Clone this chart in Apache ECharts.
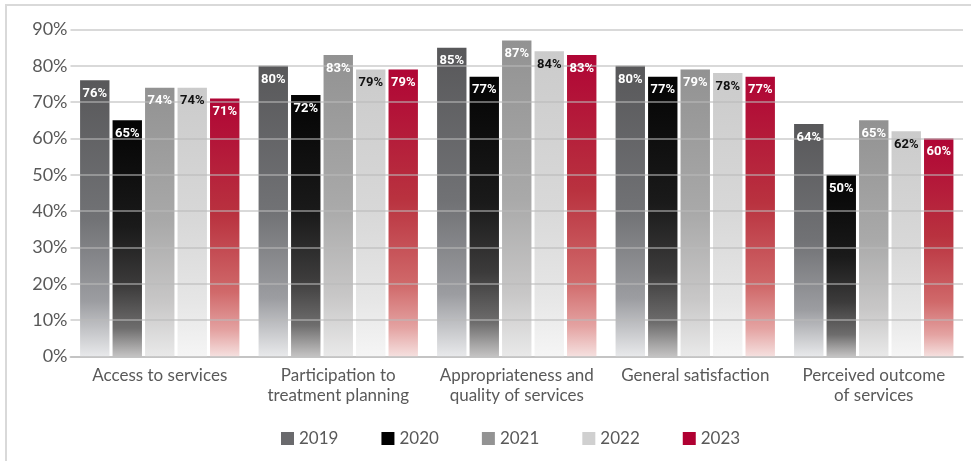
<!DOCTYPE html>
<html>
<head>
<meta charset="utf-8">
<script src="https://cdn.jsdelivr.net/npm/echarts@6/dist/echarts.min.js"></script>
<style>
  html, body { margin: 0; padding: 0; background: #fff; }
  #chart { width: 971px; height: 461px; }
</style>
</head>
<body>
<div id="chart"></div>
<script>
// Survey dimensions on the x axis
const categories = [
  'Access to services',
  'Participation to\ntreatment planning',
  'Appropriateness and\nquality of services',
  'General satisfaction',
  'Perceived outcome\nof services'
];

// Percent satisfied per year
const years = ['2019', '2020', '2021', '2022', '2023'];
const values2019 = [76, 80, 85, 80, 64];
const values2020 = [65, 72, 77, 77, 50];
const values2021 = [74, 83, 87, 79, 65];
const values2022 = [74, 79, 84, 78, 62];
const values2023 = [71, 79, 83, 77, 60];
const yTicks = { min: 0, max: 90, interval: 10 };

const seriesValues = [values2019, values2020, values2021, values2022, values2023];

// Vertical fade per year: solid colour at the top, washing out toward the base
const fades = [
  [[0, '#58585a'], [0.5, '#717275'], [0.8, '#9c9da1'], [1, '#e8e9eb']],
  [[0, '#040404'], [0.45, '#1a1a1a'], [0.7, '#3c3b3b'], [0.88, '#6e6d6d'], [1, '#c4c3c3']],
  [[0, '#929292'], [0.5, '#a9a9a9'], [0.8, '#c8c7c7'], [1, '#e9e9e9']],
  [[0, '#cbcbcb'], [0.5, '#d8d8d8'], [0.8, '#e6e6e6'], [1, '#f5f5f5']],
  [[0, '#b00535'], [0.45, '#b9323f'], [0.75, '#d0696a'], [0.9, '#e4a3a2'], [1, '#f5e0df']]
];
const legendColors = ['#6a6a6d', '#000000', '#939393', '#d0d0d0', '#b00032'];
const labelColors = ['#ffffff', '#ffffff', '#ffffff', '#111111', '#ffffff'];

const BAR_W = 29.4;
const BAR_GAP = '10.5%';

function fade(stops) {
  return new echarts.graphic.LinearGradient(0, 0, 0, 1,
    stops.map(s => ({ offset: s[0], color: s[1] })));
}

// Filled bars sit beneath the gridlines
const barSeries = years.map((y, i) => ({
  name: y,
  type: 'bar',
  xAxisIndex: 0,
  data: seriesValues[i],
  barWidth: BAR_W,
  barGap: BAR_GAP,
  z: 2,
  itemStyle: { color: fade(fades[i]) }
}));

// Value labels ride on a transparent copy of the bars, drawn above the gridlines
const labelSeries = years.map((y, i) => ({
  name: y + ' values',
  type: 'bar',
  xAxisIndex: 1,
  data: seriesValues[i],
  barWidth: BAR_W,
  barGap: BAR_GAP,
  z: 10,
  silent: true,
  itemStyle: { color: 'rgba(0,0,0,0)' },
  label: {
    show: true,
    position: 'insideTop',
    distance: 7,
    formatter: '{c}%',
    color: labelColors[i],
    fontFamily: 'Roboto',
    fontWeight: 'bold',
    fontSize: 13
  }
}));

const chart = echarts.init(document.getElementById('chart'), null, { renderer: 'canvas' });
chart.setOption({
  animation: false,
  backgroundColor: '#ffffff',
  textStyle: { fontFamily: 'Lato' },
  graphic: [{
    type: 'rect',
    shape: { x: 6, y: 5, width: 1000, height: 500 },
    style: { fill: 'none', stroke: '#d9d9d9', lineWidth: 2 },
    z: -1
  }],
  grid: { left: 70.5, right: 8, top: 29.5, bottom: 104.5, containLabel: false },
  legend: {
    left: 276,
    top: 425,
    itemWidth: 13,
    itemHeight: 13,
    itemGap: 43,
    icon: 'rect',
    textStyle: { color: '#595959', fontSize: 17, fontFamily: 'Lato' },
    data: years.map((y, i) => ({ name: y, itemStyle: { color: legendColors[i] } }))
  },
  xAxis: [{
    type: 'category',
    data: categories,
    axisLine: { lineStyle: { color: '#d0d0d0', width: 2 } },
    axisTick: { show: false },
    axisLabel: {
      color: '#595959',
      fontSize: 17,
      fontFamily: 'Lato',
      lineHeight: 20,
      margin: 9,
      interval: 0
    }
  }, {
    type: 'category',
    data: categories,
    show: false
  }],
  yAxis: {
    type: 'value',
    min: yTicks.min,
    max: yTicks.max,
    interval: yTicks.interval,
    z: 5,
    axisLine: { show: false },
    axisTick: { show: false },
    splitLine: { lineStyle: { color: 'rgba(185,185,185,0.55)', width: 2 } },
    axisLabel: {
      formatter: '{value}%',
      color: '#595959',
      fontSize: 18,
      fontFamily: 'Lato',
      margin: 3
    }
  },
  series: barSeries.concat(labelSeries)
});
</script>
</body>
</html>
